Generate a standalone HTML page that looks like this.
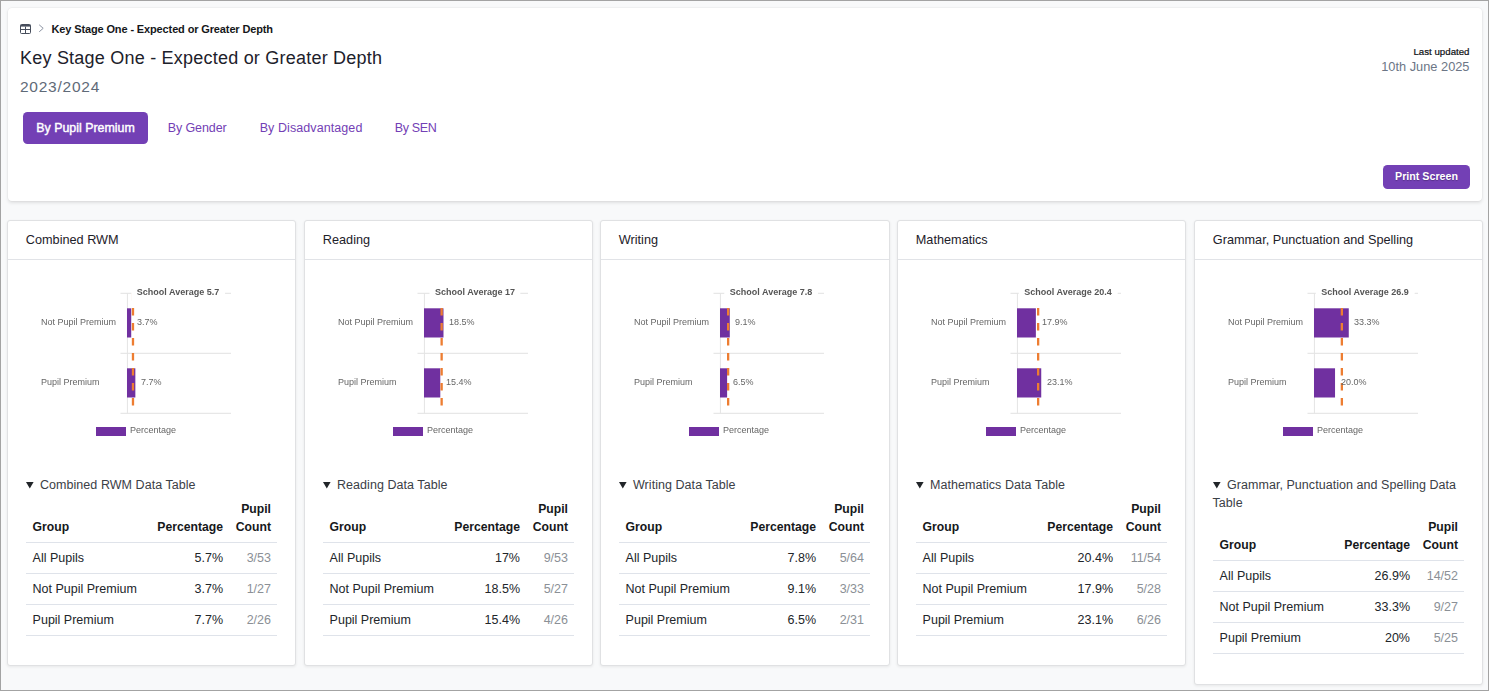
<!DOCTYPE html><html lang="en"><head><meta charset="utf-8"><title>Key Stage One - Expected or Greater Depth</title><style>
*{box-sizing:border-box;margin:0;padding:0}
html,body{width:1489px;height:691px;overflow:hidden}
body{position:relative;background:#f8f9fa;font-family:"Liberation Sans",sans-serif;color:#212529}
.t{position:absolute;white-space:nowrap;line-height:1}
.frame{position:absolute;left:0;top:0;width:1489px;height:691px;border-style:solid;border-color:#a3a3a3;border-width:1px 1.5px 1.5px 1px;z-index:50;pointer-events:none}
.top{position:absolute;left:8px;top:7.5px;width:1474px;height:193.5px;background:#fff;border-radius:4px;box-shadow:0 1.5px 3.5px rgba(0,0,0,.10),0 0 0 0.5px rgba(0,0,0,.04)}
.btn{position:absolute;background:#7340b5;color:#fff;border-radius:4.5px;font-weight:700;text-align:center}
.card{position:absolute;top:220px;width:289px;background:#fff;border:1px solid #e0e1e3;border-radius:3px;box-shadow:0 1px 3px rgba(0,0,0,.07)}
.hline{position:absolute;height:1px;background:#e3e3e3}
.vline{position:absolute;width:1px;background:#e6e6e6}
.bar{position:absolute;background:#7030a0}
.c9{font-size:9px;color:#666;will-change:transform}
table{position:absolute;border-collapse:collapse;font-size:12.5px;table-layout:fixed}
th,td{padding:0 6px 0 6.6px;white-space:nowrap;border-bottom:1px solid #dfe3ea;line-height:18px;vertical-align:bottom}
th{font-weight:700;text-align:left;color:#16181b;padding-bottom:6px;font-size:12.2px}
td{height:31px;padding-bottom:6.5px;color:#212529}
.r{text-align:right}
td.cnt{color:#8b9096}
</style></head><body>
<div class="top"></div>
<svg style="position:absolute;left:20px;top:24px" width="11" height="10" viewBox="0 0 11 10"><rect x="0.5" y="0.5" width="10" height="9" rx="1" fill="#fff" stroke="#474e5c" stroke-width="1"/><path d="M0.5 0.8H10.5V2.6H0.5Z" fill="#474e5c"/><path d="M0.5 5.5H10.5M5.5 2.6V9.5" stroke="#474e5c" stroke-width="1" fill="none"/></svg>
<svg style="position:absolute;left:37.7px;top:24.1px" width="7" height="9" viewBox="0 0 7 9"><path d="M1.2 0.8L5.2 4.3L1.2 7.8" stroke="#8d94a3" stroke-width="1" fill="none"/></svg>
<div class="t" style="left:51.5px;top:23.79px;font-size:11px;font-weight:700;color:#15171a;letter-spacing:-0.13px">Key Stage One - Expected or Greater Depth</div>
<div class="t" style="left:20px;top:48.56px;font-size:18px;color:#1d212b;letter-spacing:0.22px">Key Stage One - Expected or Greater Depth</div>
<div class="t" style="left:20px;top:79.48px;font-size:15.5px;color:#5f6a78;letter-spacing:0.75px">2023/2024</div>
<div class="btn" style="left:23px;top:112px;width:125px;height:32px;font-size:12.4px;line-height:32px;font-weight:400;-webkit-text-stroke:0.4px #fff">By Pupil Premium</div>
<div class="t" style="left:167.7px;top:122.02px;font-size:12.5px;color:#7340b5;letter-spacing:-0.1px">By Gender</div>
<div class="t" style="left:259.7px;top:122.02px;font-size:12.5px;color:#7340b5;letter-spacing:0.08px">By Disadvantaged</div>
<div class="t" style="left:394.7px;top:122.02px;font-size:12.5px;color:#7340b5;letter-spacing:-0.35px">By SEN</div>
<div class="t" style="right:19.5px;top:46.79px;font-size:9.7px;color:#0e1014;-webkit-text-stroke:0.2px #0e1014">Last updated</div>
<div class="t" style="right:19.5px;top:60.86px;font-size:12.8px;color:#6c7686">10th June 2025</div>
<div class="btn" style="left:1383px;top:165px;width:87px;height:24px;font-size:10.7px;line-height:23.5px;text-shadow:0 1px 1px rgba(0,0,0,.25)">Print Screen</div>
<div class="card" style="left:7px;height:446px"></div>
<div class="t" style="left:25.8px;top:233.85px;font-size:12.7px;color:#1d2129">Combined RWM</div>
<div class="hline" style="left:8px;top:259px;width:287px;background:#e1e3e7"></div>
<svg style="position:absolute;left:107px;top:280px" width="140" height="140" viewBox="0 0 140 140"><rect x="13.5" y="12.8" width="110.5" height="1" fill="#e2e2e2"/><rect x="13.5" y="72.8" width="110.5" height="1" fill="#e2e2e2"/><rect x="13.5" y="132.8" width="110.5" height="1" fill="#e2e2e2"/><rect x="19.9" y="13.3" width="1" height="120" fill="#e4e4e4"/><rect x="20.0" y="28.3" width="4.22" height="29.2" fill="#7030a0"/><rect x="20.0" y="88.3" width="8.35" height="29.2" fill="#7030a0"/><path d="M25.98 13.1V133.1" stroke="#ed7d31" stroke-width="2.3" stroke-dasharray="7.5 7.5" fill="none"/></svg>
<div class="t c9" style="left:40.6px;top:317.98px">Not Pupil Premium</div>
<div class="t c9" style="left:136.92px;top:317.98px">3.7%</div>
<div class="t c9" style="left:40.6px;top:377.98px">Pupil Premium</div>
<div class="t c9" style="left:141.05px;top:377.98px">7.7%</div>
<div class="t" style="left:177.9px;top:285px;transform:translateX(-50%);background:#fff;padding:2.98px 5.6px 0;height:16.2px;font-size:9px;font-weight:700;color:#555;will-change:transform">School Average 5.7</div>
<div class="bar" style="left:95.5px;top:426.5px;width:30px;height:9px"></div>
<div class="t c9" style="left:130px;top:425.88px">Percentage</div>
<svg style="position:absolute;left:26px;top:481.5px" width="8" height="7" viewBox="0 0 8 7"><path d="M0 0H7.6L3.8 6.6Z" fill="#212529"/></svg>
<div class="t" style="left:40px;top:478.92px;font-size:12.5px;color:#3b4046;letter-spacing:0.05px">Combined RWM Data Table</div>
<table style="left:26px;top:499px;width:251px"><colgroup><col style="width:121px"><col style="width:82px"><col style="width:48px"></colgroup><thead><tr><th style="height:43.8px">Group</th><th class="r">Percentage</th><th class="r">Pupil<br>Count</th></tr></thead><tbody><tr><td>All Pupils</td><td class="r">5.7%</td><td class="r cnt">3/53</td></tr><tr><td>Not Pupil Premium</td><td class="r">3.7%</td><td class="r cnt">1/27</td></tr><tr><td>Pupil Premium</td><td class="r">7.7%</td><td class="r cnt">2/26</td></tr></tbody></table>
<div class="card" style="left:304px;height:446px"></div>
<div class="t" style="left:322.8px;top:233.85px;font-size:12.7px;color:#1d2129">Reading</div>
<div class="hline" style="left:305px;top:259px;width:287px;background:#e1e3e7"></div>
<svg style="position:absolute;left:404px;top:280px" width="140" height="140" viewBox="0 0 140 140"><rect x="13.5" y="12.8" width="110.5" height="1" fill="#e2e2e2"/><rect x="13.5" y="72.8" width="110.5" height="1" fill="#e2e2e2"/><rect x="13.5" y="132.8" width="110.5" height="1" fill="#e2e2e2"/><rect x="19.9" y="13.3" width="1" height="120" fill="#e4e4e4"/><rect x="20.0" y="28.3" width="19.49" height="29.2" fill="#7030a0"/><rect x="20.0" y="88.3" width="16.29" height="29.2" fill="#7030a0"/><path d="M37.64 13.1V133.1" stroke="#ed7d31" stroke-width="2.3" stroke-dasharray="7.5 7.5" fill="none"/></svg>
<div class="t c9" style="left:337.6px;top:317.98px">Not Pupil Premium</div>
<div class="t c9" style="left:449.19px;top:317.98px">18.5%</div>
<div class="t c9" style="left:337.6px;top:377.98px">Pupil Premium</div>
<div class="t c9" style="left:445.99px;top:377.98px">15.4%</div>
<div class="t" style="left:474.9px;top:285px;transform:translateX(-50%);background:#fff;padding:2.98px 5.6px 0;height:16.2px;font-size:9px;font-weight:700;color:#555;will-change:transform">School Average 17</div>
<div class="bar" style="left:392.5px;top:426.5px;width:30px;height:9px"></div>
<div class="t c9" style="left:427px;top:425.88px">Percentage</div>
<svg style="position:absolute;left:323px;top:481.5px" width="8" height="7" viewBox="0 0 8 7"><path d="M0 0H7.6L3.8 6.6Z" fill="#212529"/></svg>
<div class="t" style="left:337px;top:478.92px;font-size:12.5px;color:#3b4046;letter-spacing:0.05px">Reading Data Table</div>
<table style="left:323px;top:499px;width:251px"><colgroup><col style="width:121px"><col style="width:82px"><col style="width:48px"></colgroup><thead><tr><th style="height:43.8px">Group</th><th class="r">Percentage</th><th class="r">Pupil<br>Count</th></tr></thead><tbody><tr><td>All Pupils</td><td class="r">17%</td><td class="r cnt">9/53</td></tr><tr><td>Not Pupil Premium</td><td class="r">18.5%</td><td class="r cnt">5/27</td></tr><tr><td>Pupil Premium</td><td class="r">15.4%</td><td class="r cnt">4/26</td></tr></tbody></table>
<div class="card" style="left:600px;height:446px;width:290px"></div>
<div class="t" style="left:618.8px;top:233.85px;font-size:12.7px;color:#1d2129">Writing</div>
<div class="hline" style="left:601px;top:259px;width:288px;background:#e1e3e7"></div>
<svg style="position:absolute;left:700px;top:280px" width="140" height="140" viewBox="0 0 140 140"><rect x="13.5" y="12.8" width="110.5" height="1" fill="#e2e2e2"/><rect x="13.5" y="72.8" width="110.5" height="1" fill="#e2e2e2"/><rect x="13.5" y="132.8" width="110.5" height="1" fill="#e2e2e2"/><rect x="19.9" y="13.3" width="1" height="120" fill="#e4e4e4"/><rect x="20.0" y="28.3" width="9.79" height="29.2" fill="#7030a0"/><rect x="20.0" y="88.3" width="7.11" height="29.2" fill="#7030a0"/><path d="M28.15 13.1V133.1" stroke="#ed7d31" stroke-width="2.3" stroke-dasharray="7.5 7.5" fill="none"/></svg>
<div class="t c9" style="left:633.6px;top:317.98px">Not Pupil Premium</div>
<div class="t c9" style="left:735.49px;top:317.98px">9.1%</div>
<div class="t c9" style="left:633.6px;top:377.98px">Pupil Premium</div>
<div class="t c9" style="left:732.81px;top:377.98px">6.5%</div>
<div class="t" style="left:770.9px;top:285px;transform:translateX(-50%);background:#fff;padding:2.98px 5.6px 0;height:16.2px;font-size:9px;font-weight:700;color:#555;will-change:transform">School Average 7.8</div>
<div class="bar" style="left:688.5px;top:426.5px;width:30px;height:9px"></div>
<div class="t c9" style="left:723px;top:425.88px">Percentage</div>
<svg style="position:absolute;left:619px;top:481.5px" width="8" height="7" viewBox="0 0 8 7"><path d="M0 0H7.6L3.8 6.6Z" fill="#212529"/></svg>
<div class="t" style="left:633px;top:478.92px;font-size:12.5px;color:#3b4046;letter-spacing:0.05px">Writing Data Table</div>
<table style="left:619px;top:499px;width:251px"><colgroup><col style="width:121px"><col style="width:82px"><col style="width:48px"></colgroup><thead><tr><th style="height:43.8px">Group</th><th class="r">Percentage</th><th class="r">Pupil<br>Count</th></tr></thead><tbody><tr><td>All Pupils</td><td class="r">7.8%</td><td class="r cnt">5/64</td></tr><tr><td>Not Pupil Premium</td><td class="r">9.1%</td><td class="r cnt">3/33</td></tr><tr><td>Pupil Premium</td><td class="r">6.5%</td><td class="r cnt">2/31</td></tr></tbody></table>
<div class="card" style="left:897px;height:446px"></div>
<div class="t" style="left:915.8px;top:233.85px;font-size:12.7px;color:#1d2129">Mathematics</div>
<div class="hline" style="left:898px;top:259px;width:287px;background:#e1e3e7"></div>
<svg style="position:absolute;left:997px;top:280px" width="140" height="140" viewBox="0 0 140 140"><rect x="13.5" y="12.8" width="110.5" height="1" fill="#e2e2e2"/><rect x="13.5" y="72.8" width="110.5" height="1" fill="#e2e2e2"/><rect x="13.5" y="132.8" width="110.5" height="1" fill="#e2e2e2"/><rect x="19.9" y="13.3" width="1" height="120" fill="#e4e4e4"/><rect x="20.0" y="28.3" width="18.87" height="29.2" fill="#7030a0"/><rect x="20.0" y="88.3" width="24.24" height="29.2" fill="#7030a0"/><path d="M41.15 13.1V133.1" stroke="#ed7d31" stroke-width="2.3" stroke-dasharray="7.5 7.5" fill="none"/></svg>
<div class="t c9" style="left:930.6px;top:317.98px">Not Pupil Premium</div>
<div class="t c9" style="left:1041.57px;top:317.98px">17.9%</div>
<div class="t c9" style="left:930.6px;top:377.98px">Pupil Premium</div>
<div class="t c9" style="left:1046.94px;top:377.98px">23.1%</div>
<div class="t" style="left:1067.9px;top:285px;transform:translateX(-50%);background:#fff;padding:2.98px 5.6px 0;height:16.2px;font-size:9px;font-weight:700;color:#555;will-change:transform">School Average 20.4</div>
<div class="bar" style="left:985.5px;top:426.5px;width:30px;height:9px"></div>
<div class="t c9" style="left:1020px;top:425.88px">Percentage</div>
<svg style="position:absolute;left:916px;top:481.5px" width="8" height="7" viewBox="0 0 8 7"><path d="M0 0H7.6L3.8 6.6Z" fill="#212529"/></svg>
<div class="t" style="left:930px;top:478.92px;font-size:12.5px;color:#3b4046;letter-spacing:0.05px">Mathematics Data Table</div>
<table style="left:916px;top:499px;width:251px"><colgroup><col style="width:121px"><col style="width:82px"><col style="width:48px"></colgroup><thead><tr><th style="height:43.8px">Group</th><th class="r">Percentage</th><th class="r">Pupil<br>Count</th></tr></thead><tbody><tr><td>All Pupils</td><td class="r">20.4%</td><td class="r cnt">11/54</td></tr><tr><td>Not Pupil Premium</td><td class="r">17.9%</td><td class="r cnt">5/28</td></tr><tr><td>Pupil Premium</td><td class="r">23.1%</td><td class="r cnt">6/26</td></tr></tbody></table>
<div class="card" style="left:1194px;height:465px"></div>
<div class="t" style="left:1212.8px;top:233.85px;font-size:12.7px;color:#1d2129">Grammar, Punctuation and Spelling</div>
<div class="hline" style="left:1195px;top:259px;width:287px;background:#e1e3e7"></div>
<svg style="position:absolute;left:1294px;top:280px" width="140" height="140" viewBox="0 0 140 140"><rect x="13.5" y="12.8" width="110.5" height="1" fill="#e2e2e2"/><rect x="13.5" y="72.8" width="110.5" height="1" fill="#e2e2e2"/><rect x="13.5" y="132.8" width="110.5" height="1" fill="#e2e2e2"/><rect x="19.9" y="13.3" width="1" height="120" fill="#e4e4e4"/><rect x="20.0" y="28.3" width="34.77" height="29.2" fill="#7030a0"/><rect x="20.0" y="88.3" width="21.04" height="29.2" fill="#7030a0"/><path d="M47.86 13.1V133.1" stroke="#ed7d31" stroke-width="2.3" stroke-dasharray="7.5 7.5" fill="none"/></svg>
<div class="t c9" style="left:1227.6px;top:317.98px">Not Pupil Premium</div>
<div class="t c9" style="left:1354.47px;top:317.98px">33.3%</div>
<div class="t c9" style="left:1227.6px;top:377.98px">Pupil Premium</div>
<div class="t c9" style="left:1340.74px;top:377.98px">20.0%</div>
<div class="t" style="left:1364.9px;top:285px;transform:translateX(-50%);background:#fff;padding:2.98px 5.6px 0;height:16.2px;font-size:9px;font-weight:700;color:#555;will-change:transform">School Average 26.9</div>
<div class="bar" style="left:1282.5px;top:426.5px;width:30px;height:9px"></div>
<div class="t c9" style="left:1317px;top:425.88px">Percentage</div>
<svg style="position:absolute;left:1213px;top:481.5px" width="8" height="7" viewBox="0 0 8 7"><path d="M0 0H7.6L3.8 6.6Z" fill="#212529"/></svg>
<div class="t" style="left:1227px;top:478.92px;font-size:12.5px;color:#3b4046;letter-spacing:0.05px">Grammar, Punctuation and Spelling Data</div>
<div class="t" style="left:1212.5px;top:496.92px;font-size:12.5px;color:#3b4046;letter-spacing:0.05px">Table</div>
<table style="left:1213px;top:517px;width:251px"><colgroup><col style="width:121px"><col style="width:82px"><col style="width:48px"></colgroup><thead><tr><th style="height:43.8px">Group</th><th class="r">Percentage</th><th class="r">Pupil<br>Count</th></tr></thead><tbody><tr><td>All Pupils</td><td class="r">26.9%</td><td class="r cnt">14/52</td></tr><tr><td>Not Pupil Premium</td><td class="r">33.3%</td><td class="r cnt">9/27</td></tr><tr><td>Pupil Premium</td><td class="r">20%</td><td class="r cnt">5/25</td></tr></tbody></table>
<div class="frame"></div>
</body></html>
